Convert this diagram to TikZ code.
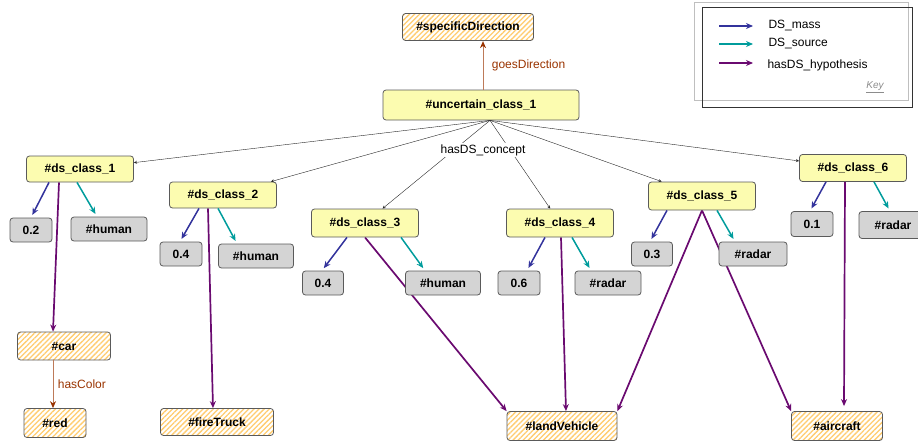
\documentclass[tikz,border=0pt]{standalone}
\usepackage{fontspec}
\setmainfont{Liberation Sans}
\usepackage{tikz}
\usetikzlibrary{arrows,arrows.meta,backgrounds,calc,patterns.meta}

\definecolor{conceptfill}{HTML}{FCFCB0}
\definecolor{valuefill}{HTML}{D4D4D4}
\definecolor{hatchcol}{HTML}{FFCC70}
\definecolor{edgegray}{HTML}{5A5A5A}
\definecolor{massblue}{HTML}{33339C}
\definecolor{sourceteal}{HTML}{009C9C}
\definecolor{hypopurple}{HTML}{6A0A70}
\definecolor{propbrown}{HTML}{993300}

\begin{document}
\begin{tikzpicture}[
    x=1pt, y=-1pt,
    font=\fontsize{12}{14}\selectfont,
    base/.style={draw=edgegray, line width=0.8pt, rounded corners=3pt, inner sep=0pt,
                 font=\fontsize{12}{14}\selectfont\bfseries},
    concept/.style={base, fill=conceptfill, minimum width=107pt, minimum height=27pt},
    value/.style={base, fill=valuefill, minimum height=24pt},
    instance/.style={base, pattern={Lines[angle=45,distance=3.6pt,line width=1.3pt]},
                     pattern color=hatchcol, minimum height=28pt},
    line/.style={->, >=stealth, thin, black!85},
    mass/.style={-{Stealth[length=7pt,width=6pt]}, massblue, line width=1.5pt, shorten >=3pt},
    source/.style={-{Stealth[length=7pt,width=6pt]}, sourceteal, line width=1.5pt, shorten >=3pt},
    hyp/.style={-{Stealth[length=7pt,width=6pt]}, hypopurple, line width=1.7pt},
    prop/.style={-{Stealth[length=7pt,width=6pt,color=propbrown]}, propbrown!65, line width=1pt},
    proplabel/.style={propbrown, anchor=west}
]
    \useasboundingbox (0,0) rectangle (918,444);

    % top of the tree
    \node[instance, minimum width=131pt, minimum height=27pt] (spec) at (468,27) {\#specificDirection};
    \node[concept, minimum width=196pt, minimum height=30pt] (unc) at (481,105) {\#uncertain\_class\_1};

    % ds classes
    \node[concept, minimum height=26pt] (ds1) at (80,169) {\#ds\_class\_1};
    \node[concept, minimum height=26pt] (ds2) at (223,195) {\#ds\_class\_2};
    \node[concept, minimum height=28pt] (ds3) at (365,223) {\#ds\_class\_3};
    \node[concept, minimum height=28pt] (ds4) at (560,223) {\#ds\_class\_4};
    \node[concept, minimum height=28pt] (ds5) at (702,196) {\#ds\_class\_5};
    \node[concept] (ds6) at (853,168) {\#ds\_class\_6};

    % masses and sources
    \node[value, minimum width=42pt] (m1) at (31,230) {0.2};
    \node[value, minimum width=76pt] (s1) at (109,229) {\#human};
    \node[value, minimum width=42pt] (m2) at (181,254) {0.4};
    \node[value, minimum width=75pt] (s2) at (256,256) {\#human};
    \node[value, minimum width=41pt] (m3) at (323,283) {0.4};
    \node[value, minimum width=75pt] (s3) at (443,283) {\#human};
    \node[value, minimum width=42pt] (m4) at (519,283) {0.6};
    \node[value, minimum width=66pt] (s4) at (608,283) {\#radar};
    \node[value, minimum width=41pt] (m5) at (652,254) {0.3};
    \node[value, minimum width=68pt] (s5) at (753,254) {\#radar};
    \node[value, minimum width=42pt, minimum height=25pt] (m6) at (812,224) {0.1};
    \node[value, minimum width=68pt, minimum height=27pt] (s6) at (893,225) {\#radar};

    % hypotheses
    \node[instance, minimum width=93pt] (car) at (64,346) {\#car};
    \node[instance, minimum width=62pt, minimum height=29pt] (red) at (55,423) {\#red};
    \node[instance, minimum width=113pt, minimum height=27pt] (fire) at (217,422) {\#fireTruck};
    \node[instance, minimum width=110pt, minimum height=29pt] (land) at (562,426) {\#landVehicle};
    \node[instance, minimum width=91pt, minimum height=29pt] (air) at (837,426) {\#aircraft};

    % hasDS_concept
    \coordinate (hub) at ([xshift=9pt]unc.south);
    \foreach \d in {ds1,ds2,ds3,ds4,ds5,ds6}
        \draw[line] (hub) -- (\d);
    \node[fill=white, inner sep=1pt] (conceptlabel) at (483,150) {hasDS\_concept};

    \draw[prop] ([xshift=2pt]unc.north) -- ([xshift=15pt]spec.south)
        node[proplabel, midway, xshift=5pt] (goeslabel) {goesDirection};
    \draw[prop] ([xshift=-11pt]car.south) -- ([xshift=-2pt]red.north)
        node[proplabel, midway, xshift=1pt] (colorlabel) {hasColor};

    % DS_mass and DS_source
    \draw[mass] ([xshift=-31pt]ds1.south) -- (m1.north);
    \draw[source] ([xshift=-3pt]ds1.south) -- ([xshift=-12pt]s1.north);
    \draw[mass] ([xshift=-24pt]ds2.south) -- ([xshift=-1pt]m2.north);
    \draw[source] ([xshift=-5pt]ds2.south) -- ([xshift=-19pt]s2.north);
    \draw[mass] ([xshift=-18pt]ds3.south) -- ([xshift=-1pt]m3.north);
    \draw[source] ([xshift=36pt]ds3.south) -- ([xshift=-18pt]s3.north);
    \draw[mass] ([xshift=-15pt]ds4.south) -- ([xshift=8pt]m4.north);
    \draw[source] ([xshift=12pt]ds4.south) -- ([xshift=-17pt]s4.north);
    \draw[mass] ([xshift=-35pt]ds5.south) -- ([xshift=-2pt]m5.north);
    \draw[source] ([xshift=15pt]ds5.south) -- ([xshift=-18pt]s5.north);
    \draw[mass] ([xshift=-27pt]ds6.south) -- ([xshift=-2pt]m6.north);
    \draw[source] ([xshift=21pt]ds6.south) -- ([xshift=-3pt]s6.north);

    % hasDS_hypothesis
    \begin{scope}[on background layer]
        \draw[hyp] ([xshift=-21pt]ds1.south) -- ([xshift=-11pt]car.north);
        \draw[hyp] ([xshift=-15pt]ds2.south) -- ([xshift=-4pt]fire.north);
        \draw[hyp] (ds3.south) -- (land.north west);
        \draw[hyp] ([xshift=1pt]ds4.south) -- ([xshift=4pt]land.north);
        \draw[hyp] (ds5.south) -- (land.north east);
        \draw[hyp] (ds5.south) -- (air.north west);
        \draw[hyp] ([xshift=-8pt]ds6.south) -- ([xshift=7pt,yshift=5pt]air.north);
    \end{scope}

    % key
    \draw[black!25, line width=1pt] (694,3) rectangle (908,100);
    \draw[black!80] (702,7) rectangle (912,107);
    \node[anchor=west] (lmass) at (765,26) {DS\_mass};
    \node[anchor=west] (lsource) at (765,44) {DS\_source};
    \node[anchor=west] (lhyp) at (764,65) {hasDS\_hypothesis};
    \draw[mass, shorten >=0pt] ([xshift=-46pt]lmass.west) -- ([xshift=-12pt]lmass.west);
    \draw[source, shorten >=0pt] ([xshift=-46pt]lsource.west) -- ([xshift=-12pt]lsource.west);
    \draw[hyp, line width=1.4pt] ([xshift=-45pt,yshift=2pt]lhyp.west) -- ([xshift=-11pt,yshift=2pt]lhyp.west);
    \node[black!45, font=\fontsize{10}{12}\selectfont\itshape] (keylabel) at (875,87) {\underline{Key}};
\end{tikzpicture}
\end{document}
